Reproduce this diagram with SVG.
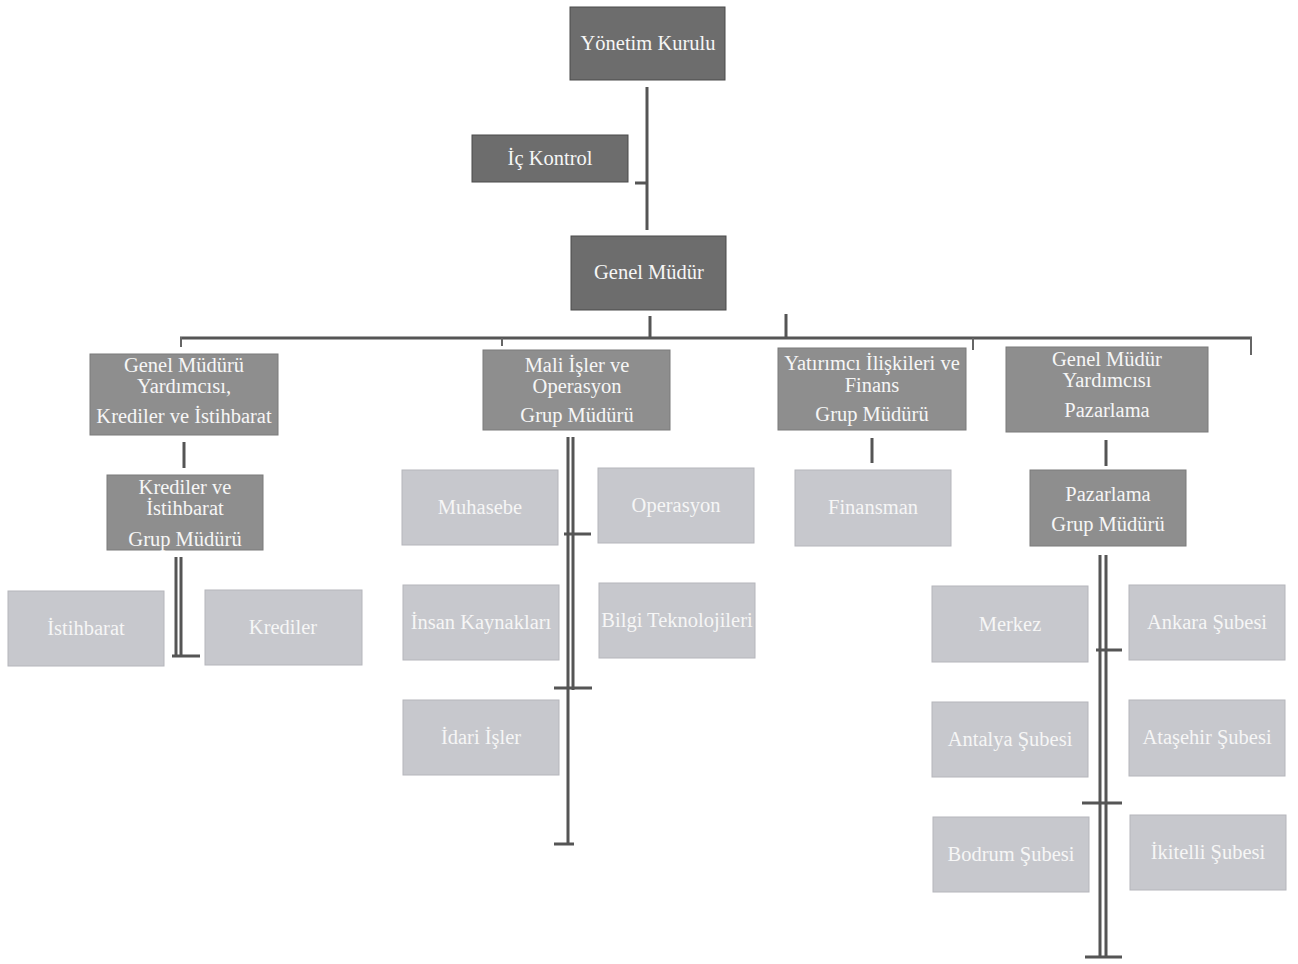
<svg xmlns="http://www.w3.org/2000/svg" width="1298" height="964" viewBox="0 0 1298 964">
<style>
.dark{fill:#6d6d6d;stroke:#4a4a4a;stroke-width:1}
.mid{fill:#8e8e8e;stroke:#7a7a7a;stroke-width:1}
.light{fill:#c7c8cd;stroke:#b5b6bb;stroke-width:1}
text{font-family:"Liberation Serif",serif;fill:#f6f6f6;text-anchor:middle;font-size:20.5px}
.c line{stroke:#555;stroke-width:3}
.c .thin{stroke:#666;stroke-width:2}
</style>
<rect width="1298" height="964" fill="#fff"/>
<g class="c" id="connectors">
<line x1="647" y1="87" x2="647" y2="230"/>
<line x1="635" y1="183" x2="647" y2="183"/>
<line x1="650" y1="316" x2="650" y2="337"/>
<line x1="786" y1="314" x2="786" y2="337"/>
<line x1="180" y1="338" x2="1252" y2="338"/>
<line x1="181" y1="337" x2="181" y2="347" class="thin"/>
<line x1="502" y1="338" x2="502" y2="346" class="thin"/>
<line x1="973" y1="338" x2="973" y2="350" class="thin"/>
<line x1="1251" y1="337" x2="1251" y2="355" class="thin"/>
<line x1="184" y1="442" x2="184" y2="468"/>
<line x1="176" y1="557" x2="176" y2="656"/>
<line x1="181" y1="557" x2="181" y2="656"/>
<line x1="172" y1="656" x2="200" y2="656"/>
<line x1="568" y1="437" x2="568" y2="845"/>
<line x1="573" y1="437" x2="573" y2="690"/>
<line x1="564" y1="534" x2="591" y2="534"/>
<line x1="554" y1="688" x2="592" y2="688"/>
<line x1="554" y1="844" x2="574" y2="844"/>
<line x1="872" y1="438" x2="872" y2="463"/>
<line x1="1106" y1="440" x2="1106" y2="466"/>
<line x1="1100" y1="555" x2="1100" y2="958"/>
<line x1="1106" y1="555" x2="1106" y2="958"/>
<line x1="1096" y1="650" x2="1122" y2="650"/>
<line x1="1082" y1="803" x2="1122" y2="803"/>
<line x1="1085" y1="957" x2="1122" y2="957"/>
</g>
<g id="n-yonetim"><rect class="dark" x="570" y="7" width="155" height="73"/><text x="648" y="50">Yönetim Kurulu</text></g>
<g id="n-ickontrol"><rect class="dark" x="472" y="135" width="156" height="47"/><text x="550" y="165">İç Kontrol</text></g>
<g id="n-genelmudur"><rect class="dark" x="571" y="236" width="155" height="74"/><text x="649" y="279">Genel Müdür</text></g>
<g id="n-gmy-kredi"><rect class="mid" x="90" y="354" width="188" height="81"/><text x="184" y="372">Genel Müdürü</text><text x="184" y="393">Yardımcısı,</text><text x="184" y="423">Krediler ve İstihbarat</text></g>
<g id="n-mali"><rect class="mid" x="483" y="350" width="187" height="80"/><text x="577" y="372">Mali İşler ve</text><text x="577" y="393">Operasyon</text><text x="577" y="422">Grup Müdürü</text></g>
<g id="n-yatirimci"><rect class="mid" x="778" y="348" width="188" height="82"/><text x="872" y="370">Yatırımcı İlişkileri ve</text><text x="872" y="392">Finans</text><text x="872" y="421">Grup Müdürü</text></g>
<g id="n-gmy-paz"><rect class="mid" x="1006" y="347" width="202" height="85"/><text x="1107" y="366">Genel Müdür</text><text x="1107" y="387">Yardımcısı</text><text x="1107" y="417">Pazarlama</text></g>
<g id="n-kredi-grup"><rect class="mid" x="107" y="475" width="156" height="75"/><text x="185" y="494">Krediler ve</text><text x="185" y="515">İstihbarat</text><text x="185" y="546">Grup Müdürü</text></g>
<g id="n-istihbarat"><rect class="light" x="8" y="591" width="156" height="75"/><text x="86" y="635">İstihbarat</text></g>
<g id="n-krediler"><rect class="light" x="205" y="590" width="157" height="75"/><text x="283" y="634">Krediler</text></g>
<g id="n-muhasebe"><rect class="light" x="402" y="470" width="156" height="75"/><text x="480" y="514">Muhasebe</text></g>
<g id="n-operasyon"><rect class="light" x="598" y="468" width="156" height="75"/><text x="676" y="512">Operasyon</text></g>
<g id="n-ik"><rect class="light" x="403" y="585" width="156" height="75"/><text x="481" y="629">İnsan Kaynakları</text></g>
<g id="n-bt"><rect class="light" x="599" y="583" width="156" height="75"/><text x="677" y="627">Bilgi Teknolojileri</text></g>
<g id="n-idari"><rect class="light" x="403" y="700" width="156" height="75"/><text x="481" y="744">İdari İşler</text></g>
<g id="n-finansman"><rect class="light" x="795" y="470" width="156" height="76"/><text x="873" y="514">Finansman</text></g>
<g id="n-paz-grup"><rect class="mid" x="1030" y="470" width="156" height="76"/><text x="1108" y="501">Pazarlama</text><text x="1108" y="531">Grup Müdürü</text></g>
<g id="n-merkez"><rect class="light" x="932" y="586" width="156" height="76"/><text x="1010" y="631">Merkez</text></g>
<g id="n-ankara"><rect class="light" x="1129" y="585" width="156" height="75"/><text x="1207" y="629">Ankara Şubesi</text></g>
<g id="n-antalya"><rect class="light" x="932" y="702" width="156" height="75"/><text x="1010" y="746">Antalya Şubesi</text></g>
<g id="n-atasehir"><rect class="light" x="1129" y="700" width="156" height="76"/><text x="1207" y="744">Ataşehir Şubesi</text></g>
<g id="n-bodrum"><rect class="light" x="933" y="817" width="156" height="75"/><text x="1011" y="861">Bodrum Şubesi</text></g>
<g id="n-ikitelli"><rect class="light" x="1130" y="815" width="156" height="75"/><text x="1208" y="859">İkitelli Şubesi</text></g>
</svg>
